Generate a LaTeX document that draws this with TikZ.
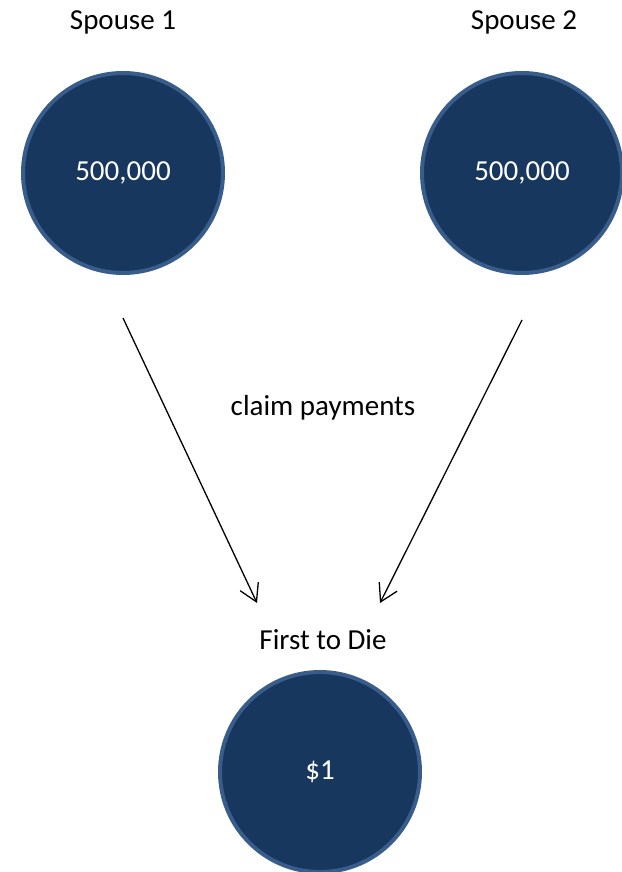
\documentclass[tikz,border=0pt]{standalone}
\usepackage{fontspec}
\setmainfont{Carlito}
\usetikzlibrary{positioning,arrows.meta}
\definecolor{navyfill}{HTML}{17375E}
\definecolor{navyline}{HTML}{385D8A}
\begin{document}
\begin{tikzpicture}[x=1pt, y=-1pt, font=\fontsize{29}{34}\selectfont,
    fund/.style={circle, draw=navyline, line width=4pt, fill=navyfill, text=white, minimum size=200pt, inner sep=0pt},
    claim/.style={-{Straight Barb[length=17pt,width=20pt]}, line width=1.3pt}]
  \useasboundingbox (0,0) rectangle (621,872);
  \node (F1) [fund] at (123,173) {500,000};
  \node (F2) [fund] at (522,173) {500,000};
  \node (D) [fund] at (320,772) {\$1};
  \node (S1) at (123,22) {Spouse 1};
  \node (S2) at (524,22) {Spouse 2};
  \node (C) at (323,408) {claim payments};
  \node (T) at (323,640) {First to Die};
  \coordinate (A1) at (123,318);
  \coordinate (B1) at (257,603);
  \coordinate (A2) at (522,320);
  \coordinate (B2) at (380,603);
  \path[claim]
    (A1) edge (B1)
    (A2) edge (B2);
\end{tikzpicture}
\end{document}
